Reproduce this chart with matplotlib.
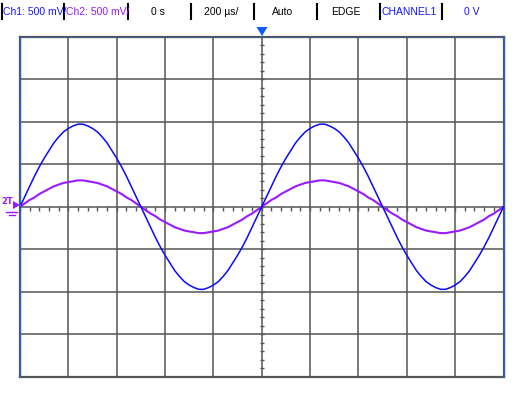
import numpy as np
import matplotlib
matplotlib.use("Agg")
import matplotlib.pyplot as plt

# ---- data (read from the screen) ----
# sample interval 20 us, 2 ms shown (200 us/div x 10 div)
sample_us = 20
ch1_volts = [0.00, 0.12, 0.24, 0.36, 0.47, 0.57, 0.66, 0.75, 0.82, 0.88, 0.92, 0.95, 0.97,
             0.97, 0.95, 0.92, 0.88, 0.82, 0.75, 0.66, 0.57, 0.47, 0.36, 0.24, 0.12,
             0.00, -0.12, -0.24, -0.36, -0.47, -0.57, -0.66, -0.75, -0.82, -0.88, -0.92, -0.95, -0.97,
             -0.97, -0.95, -0.92, -0.88, -0.82, -0.75, -0.66, -0.57, -0.47, -0.36, -0.24, -0.12,
             0.00, 0.12, 0.24, 0.36, 0.47, 0.57, 0.66, 0.75, 0.82, 0.88, 0.92, 0.95, 0.97,
             0.97, 0.95, 0.92, 0.88, 0.82, 0.75, 0.66, 0.57, 0.47, 0.36, 0.24, 0.12,
             0.00, -0.12, -0.24, -0.36, -0.47, -0.57, -0.66, -0.75, -0.82, -0.88, -0.92, -0.95, -0.97,
             -0.97, -0.95, -0.92, -0.88, -0.82, -0.75, -0.66, -0.57, -0.47, -0.36, -0.24, -0.12,
             0.00]
ch2_volts = [0.00, 0.04, 0.08, 0.11, 0.15, 0.18, 0.21, 0.24, 0.26, 0.28, 0.29, 0.30, 0.31,
             0.31, 0.30, 0.29, 0.28, 0.26, 0.24, 0.21, 0.18, 0.15, 0.11, 0.08, 0.04,
             0.00, -0.04, -0.08, -0.11, -0.15, -0.18, -0.21, -0.24, -0.26, -0.28, -0.29, -0.30, -0.31,
             -0.31, -0.30, -0.29, -0.28, -0.26, -0.24, -0.21, -0.18, -0.15, -0.11, -0.08, -0.04,
             0.00, 0.04, 0.08, 0.11, 0.15, 0.18, 0.21, 0.24, 0.26, 0.28, 0.29, 0.30, 0.31,
             0.31, 0.30, 0.29, 0.28, 0.26, 0.24, 0.21, 0.18, 0.15, 0.11, 0.08, 0.04,
             0.00, -0.04, -0.08, -0.11, -0.15, -0.18, -0.21, -0.24, -0.26, -0.28, -0.29, -0.30, -0.31,
             -0.31, -0.30, -0.29, -0.28, -0.26, -0.24, -0.21, -0.18, -0.15, -0.11, -0.08, -0.04,
             0.00]
header_labels = ["Ch1: 500 mV/", "Ch2: 500 mV/", "0 s", "200 \u00b5s/", "Auto", "EDGE", "CHANNEL1", "0 V"]
header_colors = ["#1414ff", "#9a1aff", "black", "black", "black", "black", "#1414ff", "#1414ff"]
volts_per_div = 0.5
us_per_div = 200

t_us = np.arange(len(ch1_volts)) * sample_us

W, H = 523, 395
fig = plt.figure(figsize=(W / 100, H / 100), dpi=100)
fig.patch.set_facecolor("white")

L, R, T, B = 20, 503.5, 36.5, 377
ax = fig.add_axes([L / W, (H - B) / H, (R - L) / W, (B - T) / H])
ax.set_xlim(0, 10 * us_per_div)
ax.set_ylim(-4 * volts_per_div, 4 * volts_per_div)
ax.set_xticks(np.arange(0, 10 * us_per_div + 1, us_per_div))
ax.set_yticks(np.arange(-4, 5) * volts_per_div)
ax.tick_params(length=0, labelbottom=False, labelleft=False)
ax.grid(True, color="#555555", lw=1.1)
for s in ax.spines.values():
    s.set_color("#555555")
    s.set_linewidth(1.6)

# minor ticks on centre lines
minor_x = np.arange(0, 10 * us_per_div + 1, us_per_div / 5)
minor_y = np.arange(-4, 4.01, 0.2) * volts_per_div
ax.plot(minor_x, np.zeros_like(minor_x), ls="none", marker=3, ms=3.2, mew=1.0, color="#555555")
ax.plot(np.full_like(minor_y, 5 * us_per_div), minor_y, ls="none", marker="_", ms=3.5, mew=1.0, color="#555555")

# traces
ax.plot(t_us, ch2_volts, color="#9a1aff", lw=1.5, zorder=5)
ax.plot(t_us, ch1_volts, color="#0a0aff", lw=1.1, zorder=6)

# blue dashed edges (left, right, top)
for xx in (0, 10 * us_per_div):
    ax.plot([xx, xx], [-2, 2], color="#1a66ff", lw=1.0, ls=(0, (2, 1)), clip_on=False, zorder=7)
ax.plot([0, 2000], [2, 2], color="#1a66ff", lw=0.6, ls=(0, (2, 1)), clip_on=False, zorder=7, alpha=0.6)

# overlay in pixel coordinates for header and markers
ov = fig.add_axes([0, 0, 1, 1], facecolor="none")
ov.set_xlim(0, W)
ov.set_ylim(H, 0)
ov.axis("off")

text_x = [3, 66, 158, 221, 283, 346, 409, 472]
has_left = [True, True, False, False, False, False, False, False]
for lab, col, x, left in zip(header_labels, header_colors, text_x, has_left):
    ov.text(x, 12, lab, color=col, fontsize=7.5, va="center",
            ha="left" if left else "center", family="Liberation Sans")
for bx in [2, 64.3, 127.7, 191, 254, 316.7, 379.7, 442.3]:
    ov.plot([bx, bx], [3.5, 18.5], color="black", lw=1.5)

# trigger marker
ov.fill([256.5, 267.5, 262], [27, 27, 36], color="#0d5cff", lw=0)

# channel markers on left
ov.text(1.5, 202, "2T", color="#9a1aff", fontsize=6, va="center", ha="left", fontweight="bold")
ov.fill([13, 20, 13], [201, 205, 209], color="#9a1aff", lw=0)
ov.plot([6, 17], [211.5, 211.5], color="#9a1aff", lw=1)
ov.plot([8.5, 15], [214.5, 214.5], color="#9a1aff", lw=1)

fig.savefig("out.png", dpi=100, facecolor="white")
